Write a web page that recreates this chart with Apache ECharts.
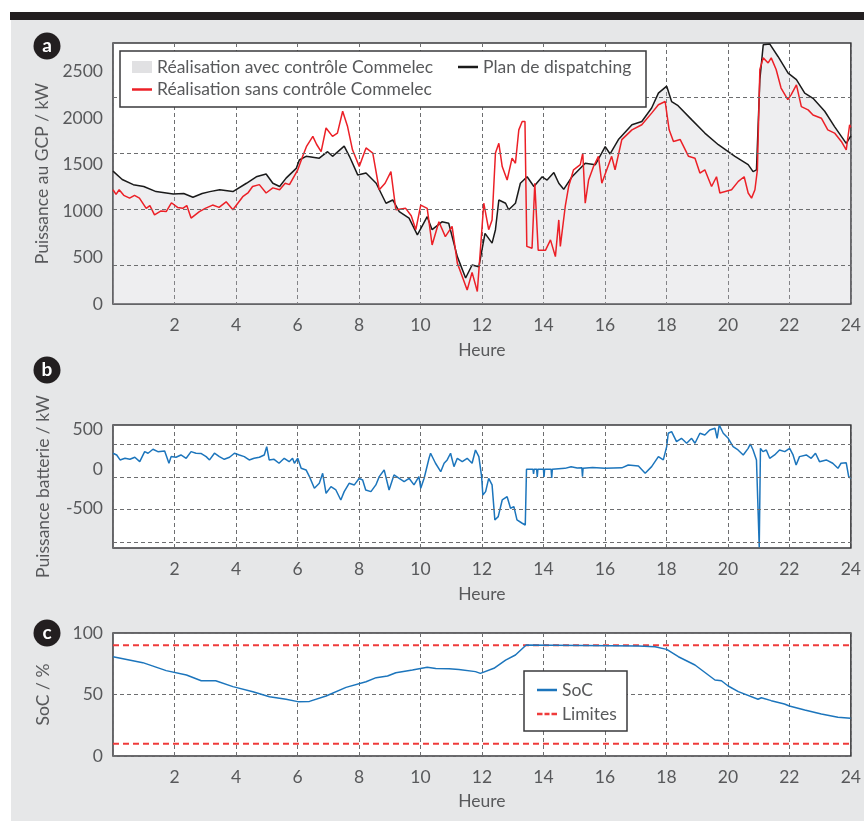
<!DOCTYPE html>
<html>
<head>
<meta charset="utf-8">
<script src="https://cdn.jsdelivr.net/npm/echarts@6/dist/echarts.min.js"></script>
<style>
html, body { margin: 0; padding: 0; background: #fff; }
#bande { position: absolute; left: 10px; top: 12px; width: 854px; height: 8px; background: #231f20; }
#fond { position: absolute; left: 11px; top: 20px; width: 853px; height: 801px; background: #e6e7e8; }
#chart { position: absolute; left: 0; top: 0; width: 864px; height: 821px; }
</style>
</head>
<body>
<div id="bande"></div>
<div id="fond"></div>
<div id="chart"></div>
<script>
// heure, puissance (kW) - Plan de dispatching
var planDispatching = [
    [0, 1430], [0.3, 1340], [0.66, 1285], [1.0, 1265], [1.4, 1210], [1.96, 1185], [2.3, 1190], [2.6, 1150],
    [2.9, 1190], [3.15, 1210], [3.47, 1230], [3.9, 1210], [4.34, 1300], [4.66, 1370], [4.98, 1400], [5.2, 1300],
    [5.42, 1265], [5.63, 1355], [5.96, 1460], [6.06, 1550], [6.28, 1590], [6.71, 1570], [6.98, 1640], [7.14, 1590],
    [7.52, 1700], [7.69, 1590], [7.96, 1390], [8.23, 1410], [8.56, 1300], [8.88, 1085], [9.1, 1120], [9.31, 995],
    [9.63, 925], [9.9, 745], [10.22, 940], [10.38, 800], [10.7, 885], [10.92, 870], [11.2, 510], [11.47, 280],
    [11.68, 420], [11.9, 400], [12.0, 580], [12.1, 760], [12.33, 655], [12.44, 800], [12.55, 1120], [12.77, 1085],
    [12.87, 1015], [13.09, 1085], [13.25, 1300], [13.47, 1370], [13.69, 1265], [13.96, 1370], [14.12, 1335], [14.34, 1415],
    [14.5, 1300], [14.66, 1235], [14.93, 1370], [15.36, 1515], [15.69, 1500], [16.01, 1695], [16.17, 1615], [16.44, 1770],
    [16.88, 1930], [17.2, 1965], [17.52, 2110], [17.74, 2270], [18.01, 2345], [18.17, 2180], [18.38, 2135], [18.82, 1985],
    [19.25, 1840], [19.69, 1715], [20.23, 1590], [20.66, 1500], [20.82, 1425], [20.93, 1445], [21.04, 2415], [21.15, 2790],
    [21.36, 2800], [21.63, 2665], [21.96, 2485], [22.23, 2415], [22.5, 2270], [22.77, 2215], [23.15, 2075], [23.47, 1910],
    [23.85, 1730], [24, 1810]
];

// Réalisation sans contrôle Commelec
var sansControle = [
    [0, 1230], [0.1, 1180], [0.2, 1230], [0.35, 1170], [0.54, 1140], [0.7, 1170], [0.86, 1140], [1.08, 1030],
    [1.2, 1060], [1.35, 960], [1.55, 1000], [1.73, 995], [1.9, 1090], [2.1, 1040], [2.27, 1030], [2.4, 1060],
    [2.54, 925], [2.81, 995], [3.0, 1030], [3.24, 1065], [3.45, 1040], [3.68, 1100], [3.9, 1015], [4.22, 1155],
    [4.4, 1200], [4.54, 1265], [4.76, 1285], [4.98, 1195], [5.2, 1250], [5.42, 1230], [5.6, 1300], [5.74, 1285],
    [6.01, 1445], [6.17, 1590], [6.3, 1700], [6.5, 1805], [6.62, 1720], [6.77, 1640], [6.93, 1895], [7.14, 1805],
    [7.3, 1840], [7.47, 2075], [7.63, 1910], [7.79, 1660], [8.01, 1480], [8.23, 1680], [8.45, 1625], [8.66, 1230],
    [8.85, 1300], [9.04, 1425], [9.2, 1015], [9.52, 1030], [9.7, 950], [9.85, 800], [10.01, 1065], [10.22, 1030],
    [10.38, 635], [10.6, 885], [10.81, 725], [11.03, 835], [11.2, 440], [11.36, 295], [11.52, 150], [11.68, 340],
    [11.85, 135], [11.95, 580], [12.06, 1085], [12.22, 800], [12.33, 905], [12.44, 1625], [12.55, 1730], [12.66, 1480],
    [12.82, 1335], [12.98, 1570], [13.09, 1515], [13.2, 1875], [13.31, 1965], [13.4, 1965], [13.46, 620], [13.63, 600],
    [13.68, 600], [13.72, 1300], [13.77, 1300], [13.83, 580], [14.07, 580], [14.23, 690], [14.39, 510], [14.5, 905],
    [14.55, 620], [14.71, 1050], [14.82, 1265], [14.98, 1445], [15.2, 1500], [15.28, 1625], [15.36, 1085], [15.47, 1335],
    [15.63, 1480], [15.79, 1590], [15.9, 1300], [16.06, 1445], [16.22, 1590], [16.33, 1445], [16.55, 1770], [16.88, 1875],
    [17.2, 1930], [17.52, 2055], [17.74, 2145], [17.96, 2180], [18.09, 1875], [18.23, 1750], [18.45, 1770], [18.72, 1590],
    [18.93, 1570], [19.09, 1410], [19.25, 1445], [19.47, 1265], [19.63, 1370], [19.74, 1195], [20.12, 1230], [20.34, 1320],
    [20.53, 1370], [20.66, 1195], [20.77, 1140], [20.88, 1230], [20.96, 1445], [21.04, 2525], [21.15, 2650], [21.31, 2595],
    [21.41, 2650], [21.57, 2525], [21.73, 2325], [21.95, 2200], [22.06, 2255], [22.23, 2360], [22.39, 2125], [22.61, 2090],
    [22.77, 2035], [23.04, 2000], [23.25, 1875], [23.47, 1840], [23.69, 1750], [23.85, 1660], [23.96, 1930], [24, 1900]
];

// Puissance batterie (kW)
var puissanceBatterie = [
    [0, 202], [0.12, 180], [0.23, 117], [0.39, 138], [0.55, 125], [0.71, 151], [0.87, 95], [1.03, 222],
    [1.14, 202], [1.3, 252], [1.46, 222], [1.68, 231], [1.82, 75], [1.89, 159], [2.05, 151], [2.21, 180],
    [2.38, 138], [2.54, 222], [2.7, 202], [2.86, 200], [3.03, 159], [3.14, 117], [3.3, 202], [3.46, 159],
    [3.62, 125], [3.79, 151], [3.95, 202], [4.11, 180], [4.27, 159], [4.43, 117], [4.59, 138], [4.76, 151],
    [4.92, 180], [5.0, 285], [5.08, 117], [5.24, 125], [5.4, 75], [5.57, 138], [5.73, 95], [5.84, 138],
    [5.9, 75], [6.01, 138], [6.12, 11], [6.28, -10], [6.39, -95], [6.55, -242], [6.71, -179], [6.82, -52],
    [6.93, -306], [7.09, -222], [7.25, -264], [7.41, -391], [7.52, -285], [7.68, -179], [7.85, -200], [8.01, -116],
    [8.12, -137], [8.22, -264], [8.39, -285], [8.55, -200], [8.66, -95], [8.82, -10], [8.98, -264], [9.14, -74],
    [9.31, -116], [9.47, -158], [9.63, -116], [9.79, -200], [9.95, -95], [10.01, -242], [10.12, -116], [10.28, 138],
    [10.33, 202], [10.49, 75], [10.66, -32], [10.77, 75], [10.87, 117], [10.98, 202], [11.09, 32], [11.2, 138],
    [11.36, 95], [11.52, 138], [11.68, 75], [11.79, 243], [11.9, 159], [11.99, -95], [12.03, -327], [12.12, -285],
    [12.22, -116], [12.33, -200], [12.42, -644], [12.53, -602], [12.66, -391], [12.82, -349], [12.93, -496], [13.04, -475],
    [13.14, -644], [13.31, -686], [13.41, -708], [13.45, 0], [13.66, 0], [13.68, -60], [13.7, 0], [13.78, 0],
    [13.8, -100], [13.82, 0], [14.0, 0], [14.02, -100], [14.04, 0], [14.25, 0], [14.27, -110], [14.29, 0],
    [14.7, 10], [14.9, 30], [15.1, 15], [15.25, 19], [15.27, -95], [15.29, 10], [15.6, 20], [16.0, 10],
    [16.55, 17], [16.76, 53], [17.09, 40], [17.31, -52], [17.52, 32], [17.74, 159], [17.9, 117], [18.01, 285],
    [18.06, 455], [18.17, 476], [18.33, 349], [18.49, 391], [18.66, 328], [18.82, 391], [18.93, 328], [19.09, 455],
    [19.25, 434], [19.41, 497], [19.58, 519], [19.65, 391], [19.72, 560], [19.85, 455], [20.01, 391], [20.17, 285],
    [20.33, 243], [20.5, 180], [20.66, 264], [20.73, 319], [20.82, 243], [20.93, 117], [20.98, 95], [21.02, -990],
    [21.06, 264], [21.14, 222], [21.25, 243], [21.36, 138], [21.52, 180], [21.68, 243], [21.85, 222], [22.01, 264],
    [22.12, 180], [22.22, 53], [22.33, 159], [22.55, 180], [22.71, 138], [22.85, 202], [22.98, 95], [23.2, 117],
    [23.41, 75], [23.58, 11], [23.68, 75], [23.85, 80], [23.93, -95], [24, -116]
];

// SoC (%)
var soc = [
    [0, 80.7], [0.97, 75.9], [1.73, 69.4], [2.39, 65.9], [2.87, 61.2], [3.34, 61.2], [3.9, 56.4], [4.55, 52.3],
    [5.09, 48.2], [5.63, 46.1], [6.01, 44.2], [6.39, 44.4], [6.93, 48.8], [7.58, 55.8], [8.23, 60.4], [8.56, 63.7],
    [8.93, 65], [9.2, 67.7], [9.74, 69.9], [10.22, 72.1], [10.5, 71.2], [10.93, 71], [11.25, 70.4], [11.79, 68.6],
    [11.95, 67.2], [12.39, 71.3], [12.77, 78], [13.09, 82.1], [13.44, 90.2], [17.09, 89.4], [17.63, 88.9], [18.01, 86.7],
    [18.39, 80.7], [18.93, 74], [19.58, 61.8], [19.79, 61.2], [20.01, 56.9], [20.34, 52.3], [20.98, 46.1], [21.09, 47.4],
    [21.41, 45], [21.84, 42.3], [22.0, 40.7], [22.5, 37.4], [23.04, 34.1], [23.58, 31.5], [23.99, 30.7]
];

var limiteHaute = 90;
var limiteBasse = 10;

var myChart = echarts.init(document.getElementById('chart'));
var police = 'Lato, sans-serif';
var gris = '#58595b';
var rouge = '#ec2027';
var bleu = '#1c75bc';
var texte = { color: gris, fontSize: 17.5, fontFamily: police };
var grille = { color: '#6d6e70', type: [4, 3], width: 1 };
var texteLegende = { color: gris, fontSize: 17.5, fontFamily: police, lineHeight: 20 };
var tirets = 'path://M0,0h5.5v2.5h-5.5zM7.5,0h5v2.5h-5zM14.5,0h5.5v2.5h-5.5z';

function axeX(i, gap) {
    return {
        gridIndex: i, type: 'value', min: 0, max: 24, interval: 2,
        axisLine: { show: false }, axisTick: { show: false },
        axisLabel: Object.assign({ margin: 12, formatter: function (v) { return v === 0 ? '' : v; } }, texte),
        splitLine: { show: true, lineStyle: grille },
        name: 'Heure', nameLocation: 'middle', nameGap: gap, nameTextStyle: texte
    };
}

function axeY(i, min, max, nom) {
    return {
        gridIndex: i, type: 'value', min: min, max: max, interval: i === 2 ? 50 : 500,
        axisLine: { show: false }, axisTick: { show: false },
        axisLabel: Object.assign({ margin: 10, showMaxLabel: i === 2, formatter: function (v) { return v < -600 ? '' : v; } }, texte),
        splitLine: { show: i === 2, lineStyle: grille },
        name: nom, nameLocation: 'middle', nameGap: 61, nameTextStyle: texte
    };
}

function lignesGrille(valeurs) {
    return {
        silent: true, symbol: 'none', label: { show: false },
        lineStyle: grille,
        data: valeurs.map(function (v) { return { yAxis: v }; })
    };
}

function legende(left, top, items, extra) {
    return Object.assign({
        z: 40, left: left, top: top, padding: 0, itemWidth: 20, itemHeight: 2.5,
        textStyle: texteLegende, data: items
    }, extra || {});
}

var cadre = { show: true, backgroundColor: '#fff', borderColor: '#3a3a3c', borderWidth: 1.5, left: 113, right: 11 };

function pastille(lettre, y) {
    return [
        { type: 'circle', z: 30, shape: { cx: 47, cy: y, r: 13.5 }, style: { fill: '#231f20' } },
        { type: 'text', z: 31, x: 47, y: y,
          style: { text: lettre, fill: '#fff', font: 'bold 19px ' + police, align: 'center', verticalAlign: 'middle' } }
    ];
}

var option = {
    animation: false,
    grid: [
        Object.assign({ top: 43, height: 261 }, cadre),
        Object.assign({ top: 425, height: 123 }, cadre),
        Object.assign({ top: 633, height: 123 }, cadre)
    ],
    xAxis: [axeX(0, 37), axeX(1, 37), axeX(2, 36)],
    yAxis: [
        axeY(0, 0, 2810, 'Puissance au GCP / kW'),
        axeY(1, -1000, 560, 'Puissance batterie / kW'),
        axeY(2, 0, 100, 'SoC / %')
    ],
    legend: [
        legende(132, 57, [{ name: 'Réalisation avec contrôle Commelec', icon: 'rect', itemStyle: { color: '#e1e1e3' } }], { itemHeight: 12 }),
        legende(458, 57, [{ name: 'Plan de dispatching', icon: 'rect' }]),
        legende(132, 79.5, [{ name: 'Réalisation sans contrôle Commelec', icon: 'rect' }]),
        legende(537, 680, [{ name: 'SoC', icon: 'rect' }, { name: 'Limites', icon: tirets }], { orient: 'vertical', itemGap: 4 })
    ],
    graphic: [
        { type: 'rect', z: 10, shape: { x: 120, y: 51, width: 526, height: 56 }, style: { fill: '#fff', stroke: '#3a3a3c', lineWidth: 1.5 } },
        { type: 'rect', z: 10, shape: { x: 524, y: 671, width: 103, height: 60 }, style: { fill: '#fff', stroke: '#3a3a3c', lineWidth: 1.5 } }
    ].concat(pastille('a', 46), pastille('b', 370), pastille('c', 633)),
    series: [
        {
            name: 'Réalisation avec contrôle Commelec', type: 'line', xAxisIndex: 0, yAxisIndex: 0,
            data: planDispatching, showSymbol: false, symbol: 'none',
            lineStyle: { width: 0 }, itemStyle: { color: '#e1e1e3' },
            areaStyle: { color: 'rgba(190,190,198,0.38)' }, z: 1
        },
        {
            name: 'Plan de dispatching', type: 'line', xAxisIndex: 0, yAxisIndex: 0,
            data: planDispatching, showSymbol: false, symbol: 'none',
            lineStyle: { width: 1.5, color: '#1a1a1a' }, itemStyle: { color: '#1a1a1a' }, z: 3,
            markLine: lignesGrille([420, 1024, 1627, 2231])
        },
        {
            name: 'Réalisation sans contrôle Commelec', type: 'line', xAxisIndex: 0, yAxisIndex: 0,
            data: sansControle, showSymbol: false, symbol: 'none',
            lineStyle: { width: 1.5, color: rouge }, itemStyle: { color: rouge }, z: 4
        },
        {
            name: 'Puissance batterie', type: 'line', xAxisIndex: 1, yAxisIndex: 1,
            data: puissanceBatterie, showSymbol: false, symbol: 'none',
            lineStyle: { width: 1.5, color: bleu }, itemStyle: { color: bleu },
            markLine: lignesGrille([320, -100, -505, -925])
        },
        {
            name: 'SoC', type: 'line', xAxisIndex: 2, yAxisIndex: 2,
            data: soc, showSymbol: false, symbol: 'none',
            lineStyle: { width: 1.5, color: bleu }, itemStyle: { color: bleu }, z: 4
        },
        {
            name: 'Limites', type: 'line', xAxisIndex: 2, yAxisIndex: 2,
            data: [[0, limiteHaute], [24, limiteHaute]], showSymbol: false, symbol: 'none',
            lineStyle: { width: 2, color: '#ef3b3b', type: [6, 4] }, itemStyle: { color: '#ef3b3b' }, z: 3
        },
        {
            name: 'Limites', type: 'line', xAxisIndex: 2, yAxisIndex: 2,
            data: [[0, limiteBasse], [24, limiteBasse]], showSymbol: false, symbol: 'none',
            lineStyle: { width: 2, color: '#ef3b3b', type: [6, 4] }, itemStyle: { color: '#ef3b3b' }, z: 3
        }
    ]
};

myChart.setOption(option);
</script>
</body>
</html>
